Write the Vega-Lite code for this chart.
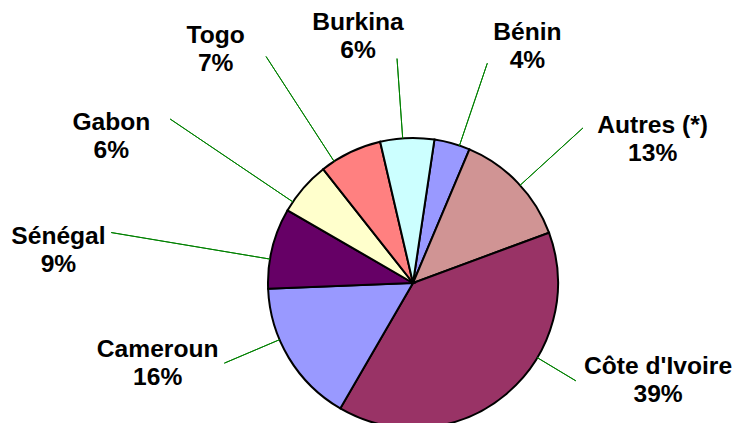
{
  "$schema": "https://vega.github.io/schema/vega-lite/v6.json",
  "width": 646,
  "height": 280,
  "autosize": {"type": "none"},
  "padding": {"left": 90, "top": 143, "right": 0, "bottom": 0},
  "background": "white",
  "config": {"view": {"stroke": null}},
  "data": {"values": [
    {"country": "Bénin", "share": 0.04},
    {"country": "Autres (*)", "share": 0.13},
    {"country": "Côte d'Ivoire", "share": 0.39},
    {"country": "Cameroun", "share": 0.16},
    {"country": "Sénégal", "share": 0.09},
    {"country": "Gabon", "share": 0.06},
    {"country": "Togo", "share": 0.07},
    {"country": "Burkina", "share": 0.06}
  ]},
  "transform": [{"window": [{"op": "row_number", "as": "idx"}]}],
  "encoding": {
    "theta": {"field": "share", "type": "quantitative", "stack": true, "scale": {"range": [0.1484, 6.4316], "nice": false}},
    "order": {"field": "idx", "type": "quantitative"},
    "detail": {"field": "country", "type": "nominal"}
  },
  "layer": [
    {"mark": {"type": "arc", "outerRadius": 145, "stroke": "#000000", "strokeWidth": 2},
     "encoding": {"color": {"field": "country", "type": "nominal", "legend": null,
       "scale": {"domain": ["Bénin", "Autres (*)", "Côte d'Ivoire", "Cameroun", "Sénégal", "Gabon", "Togo", "Burkina"],
                 "range": ["#9999FF", "#D09494", "#993366", "#9999FF", "#660066", "#FFFFCC", "#FF8080", "#CCFFFF"]}}}},

    {"mark": {"type": "arc", "innerRadius": 145, "outerRadius": 232, "padAngle": 3, "thetaOffset": 0.052, "theta2Offset": 0.052, "fillOpacity": 0, "stroke": "#008000", "strokeWidth": 1},
     "encoding": {"strokeOpacity": {"condition": {"test": "datum.idx === 1", "value": 1}, "value": 0}}},
    {"mark": {"type": "arc", "innerRadius": 145, "outerRadius": 230, "padAngle": 3, "thetaOffset": 0.023, "theta2Offset": 0.023, "fillOpacity": 0, "stroke": "#008000", "strokeWidth": 1},
     "encoding": {"strokeOpacity": {"condition": {"test": "datum.idx === 2", "value": 1}, "value": 0}}},
    {"mark": {"type": "arc", "innerRadius": 145, "outerRadius": 190, "padAngle": 3, "thetaOffset": -0.330, "theta2Offset": -0.330, "fillOpacity": 0, "stroke": "#008000", "strokeWidth": 1},
     "encoding": {"strokeOpacity": {"condition": {"test": "datum.idx === 3", "value": 1}, "value": 0}}},
    {"mark": {"type": "arc", "innerRadius": 145, "outerRadius": 205, "padAngle": 3, "thetaOffset": 0.141, "theta2Offset": 0.141, "fillOpacity": 0, "stroke": "#008000", "strokeWidth": 1},
     "encoding": {"strokeOpacity": {"condition": {"test": "datum.idx === 4", "value": 1}, "value": 0}}},
    {"mark": {"type": "arc", "innerRadius": 145, "outerRadius": 306, "padAngle": 3, "thetaOffset": -0.077, "theta2Offset": -0.077, "fillOpacity": 0, "stroke": "#008000", "strokeWidth": 1},
     "encoding": {"strokeOpacity": {"condition": {"test": "datum.idx === 5", "value": 1}, "value": 0}}},
    {"mark": {"type": "arc", "innerRadius": 145, "outerRadius": 293, "padAngle": 3, "thetaOffset": -0.120, "theta2Offset": -0.120, "fillOpacity": 0, "stroke": "#008000", "strokeWidth": 1},
     "encoding": {"strokeOpacity": {"condition": {"test": "datum.idx === 6", "value": 1}, "value": 0}}},
    {"mark": {"type": "arc", "innerRadius": 145, "outerRadius": 270, "padAngle": 3, "thetaOffset": -0.127, "theta2Offset": -0.127, "fillOpacity": 0, "stroke": "#008000", "strokeWidth": 1},
     "encoding": {"strokeOpacity": {"condition": {"test": "datum.idx === 7", "value": 1}, "value": 0}}},
    {"mark": {"type": "arc", "innerRadius": 145, "outerRadius": 225, "padAngle": 3, "thetaOffset": -0.031, "theta2Offset": -0.031, "fillOpacity": 0, "stroke": "#008000", "strokeWidth": 1},
     "encoding": {"strokeOpacity": {"condition": {"test": "datum.idx === 8", "value": 1}, "value": 0}}},

    {"mark": {"type": "text", "radius": 262, "thetaOffset": 0.178, "dy": -14, "fontSize": 24.6, "fontWeight": "bold", "font": "Liberation Sans", "align": "center", "baseline": "middle", "color": "#000000"},
     "encoding": {"text": {"condition": {"test": "datum.idx === 1", "field": "country", "type": "nominal"}, "value": ""}}},
    {"mark": {"type": "text", "radius": 262, "thetaOffset": 0.178, "dy": 14, "fontSize": 24.6, "fontWeight": "bold", "font": "Liberation Sans", "align": "center", "baseline": "middle", "color": "#000000"},
     "encoding": {"text": {"condition": {"test": "datum.idx === 1", "field": "share", "type": "quantitative", "format": ".0%"}, "value": ""}}},

    {"mark": {"type": "text", "radius": 279, "thetaOffset": 0.225, "dy": -14, "fontSize": 24.6, "fontWeight": "bold", "font": "Liberation Sans", "align": "center", "baseline": "middle", "color": "#000000"},
     "encoding": {"text": {"condition": {"test": "datum.idx === 2", "field": "country", "type": "nominal"}, "value": ""}}},
    {"mark": {"type": "text", "radius": 279, "thetaOffset": 0.225, "dy": 14, "fontSize": 24.6, "fontWeight": "bold", "font": "Liberation Sans", "align": "center", "baseline": "middle", "color": "#000000"},
     "encoding": {"text": {"condition": {"test": "datum.idx === 2", "field": "share", "type": "quantitative", "format": ".0%"}, "value": ""}}},

    {"mark": {"type": "text", "radius": 264, "thetaOffset": -0.490, "dy": -14, "fontSize": 24.6, "fontWeight": "bold", "font": "Liberation Sans", "align": "center", "baseline": "middle", "color": "#000000"},
     "encoding": {"text": {"condition": {"test": "datum.idx === 3", "field": "country", "type": "nominal"}, "value": ""}}},
    {"mark": {"type": "text", "radius": 264, "thetaOffset": -0.490, "dy": 14, "fontSize": 24.6, "fontWeight": "bold", "font": "Liberation Sans", "align": "center", "baseline": "middle", "color": "#000000"},
     "encoding": {"text": {"condition": {"test": "datum.idx === 3", "field": "share", "type": "quantitative", "format": ".0%"}, "value": ""}}},

    {"mark": {"type": "text", "radius": 268, "thetaOffset": 0.234, "dy": -14, "fontSize": 24.6, "fontWeight": "bold", "font": "Liberation Sans", "align": "center", "baseline": "middle", "color": "#000000"},
     "encoding": {"text": {"condition": {"test": "datum.idx === 4", "field": "country", "type": "nominal"}, "value": ""}}},
    {"mark": {"type": "text", "radius": 268, "thetaOffset": 0.234, "dy": 14, "fontSize": 24.6, "fontWeight": "bold", "font": "Liberation Sans", "align": "center", "baseline": "middle", "color": "#000000"},
     "encoding": {"text": {"condition": {"test": "datum.idx === 4", "field": "share", "type": "quantitative", "format": ".0%"}, "value": ""}}},

    {"mark": {"type": "text", "radius": 356, "thetaOffset": -0.152, "dy": -14, "fontSize": 24.6, "fontWeight": "bold", "font": "Liberation Sans", "align": "center", "baseline": "middle", "color": "#000000"},
     "encoding": {"text": {"condition": {"test": "datum.idx === 5", "field": "country", "type": "nominal"}, "value": ""}}},
    {"mark": {"type": "text", "radius": 356, "thetaOffset": -0.152, "dy": 14, "fontSize": 24.6, "fontWeight": "bold", "font": "Liberation Sans", "align": "center", "baseline": "middle", "color": "#000000"},
     "encoding": {"text": {"condition": {"test": "datum.idx === 5", "field": "share", "type": "quantitative", "format": ".0%"}, "value": ""}}},

    {"mark": {"type": "text", "radius": 335, "thetaOffset": -0.264, "dy": -14, "fontSize": 24.6, "fontWeight": "bold", "font": "Liberation Sans", "align": "center", "baseline": "middle", "color": "#000000"},
     "encoding": {"text": {"condition": {"test": "datum.idx === 6", "field": "country", "type": "nominal"}, "value": ""}}},
    {"mark": {"type": "text", "radius": 335, "thetaOffset": -0.264, "dy": 14, "fontSize": 24.6, "fontWeight": "bold", "font": "Liberation Sans", "align": "center", "baseline": "middle", "color": "#000000"},
     "encoding": {"text": {"condition": {"test": "datum.idx === 6", "field": "share", "type": "quantitative", "format": ".0%"}, "value": ""}}},

    {"mark": {"type": "text", "radius": 305, "thetaOffset": -0.255, "dy": -14, "fontSize": 24.6, "fontWeight": "bold", "font": "Liberation Sans", "align": "center", "baseline": "middle", "color": "#000000"},
     "encoding": {"text": {"condition": {"test": "datum.idx === 7", "field": "country", "type": "nominal"}, "value": ""}}},
    {"mark": {"type": "text", "radius": 305, "thetaOffset": -0.255, "dy": 14, "fontSize": 24.6, "fontWeight": "bold", "font": "Liberation Sans", "align": "center", "baseline": "middle", "color": "#000000"},
     "encoding": {"text": {"condition": {"test": "datum.idx === 7", "field": "share", "type": "quantitative", "format": ".0%"}, "value": ""}}},

    {"mark": {"type": "text", "radius": 252, "thetaOffset": -0.180, "dy": -14, "fontSize": 24.6, "fontWeight": "bold", "font": "Liberation Sans", "align": "center", "baseline": "middle", "color": "#000000"},
     "encoding": {"text": {"condition": {"test": "datum.idx === 8", "field": "country", "type": "nominal"}, "value": ""}}},
    {"mark": {"type": "text", "radius": 252, "thetaOffset": -0.180, "dy": 14, "fontSize": 24.6, "fontWeight": "bold", "font": "Liberation Sans", "align": "center", "baseline": "middle", "color": "#000000"},
     "encoding": {"text": {"condition": {"test": "datum.idx === 8", "field": "share", "type": "quantitative", "format": ".0%"}, "value": ""}}}
  ]
}
